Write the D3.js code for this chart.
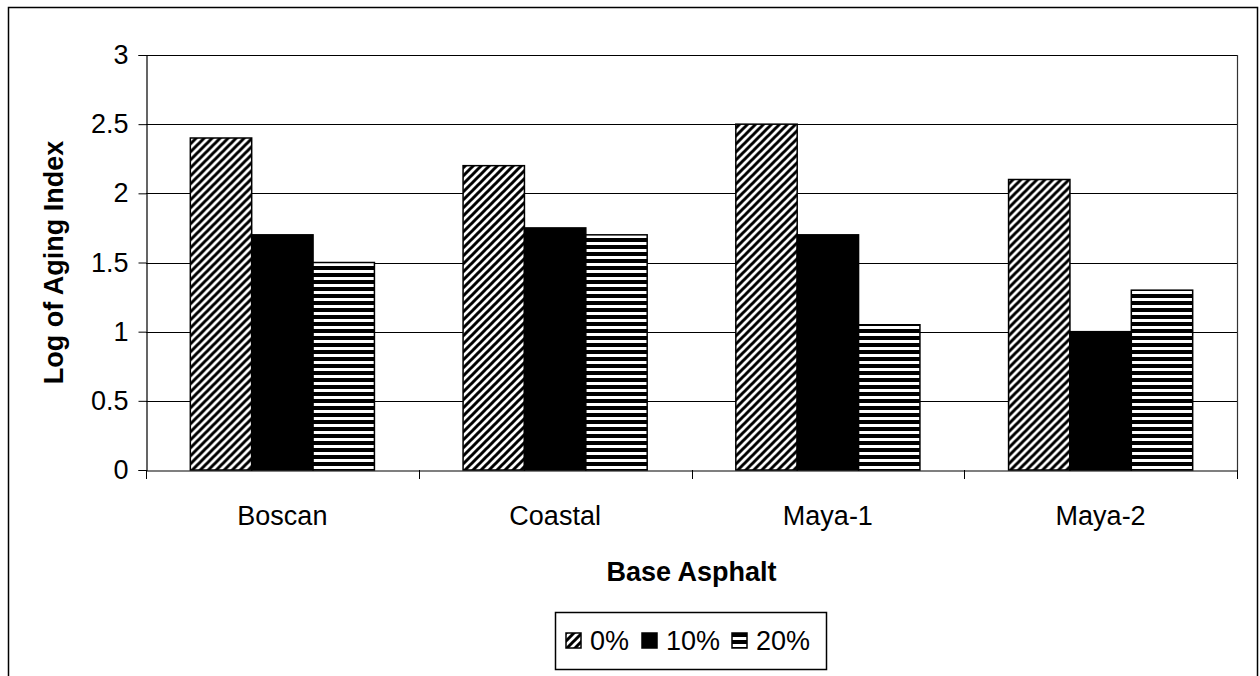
<!DOCTYPE html>
<html>
<head>
<meta charset="utf-8">
<script src="https://cdn.jsdelivr.net/npm/d3@7"></script>
<style>
  html, body { margin: 0; padding: 0; background: #fff; }
  svg { display: block; }
  text { font-family: "Liberation Sans", Arial, sans-serif; fill: #000; }
</style>
</head>
<body>
<svg id="chart" width="1260" height="676"></svg>
<script>
// ---- data ----
const categories = ["Boscan", "Coastal", "Maya-1", "Maya-2"];
const seriesNames = ["0%", "10%", "20%"];
const values0  = [2.4, 2.2, 2.5, 2.1];
const values10 = [1.7, 1.75, 1.7, 1.0];
const values20 = [1.5, 1.7, 1.05, 1.3];
const yTicks = [0, 0.5, 1, 1.5, 2, 2.5, 3];
const yTitle = "Log of Aging Index";
const xTitle = "Base Asphalt";

const seriesValues = [values0, values10, values20];

const svg = d3.select("#chart");
const plot = { left: 146, right: 1237, top: 55, bottom: 470 };

// patterns
const defs = svg.append("defs");
const diag = defs.append("pattern").attr("id", "pDiag")
  .attr("patternUnits", "userSpaceOnUse").attr("width", 8).attr("height", 8);
diag.append("rect").attr("width", 8).attr("height", 8).attr("fill", "#fff");
diag.append("path").attr("d", "M-2,2 L2,-2 M0,8 L8,0 M6,10 L10,6")
  .attr("stroke", "#000").attr("stroke-width", 3);

const horiz = defs.append("pattern").attr("id", "pHoriz")
  .attr("patternUnits", "userSpaceOnUse").attr("width", 8).attr("height", 7);
horiz.append("rect").attr("width", 8).attr("height", 7).attr("fill", "#fff");
horiz.append("rect").attr("y", 0).attr("width", 8).attr("height", 4).attr("fill", "#000");

const fills = ["url(#pDiag)", "#000", "url(#pHoriz)"];

// outer border
svg.append("rect").attr("x", 8.5).attr("y", 7.5).attr("width", 1249).attr("height", 680)
  .attr("fill", "none").attr("stroke", "#000").attr("stroke-width", 1.5);

// scales
const x0 = d3.scaleBand().domain(categories).range([plot.left, plot.right])
  .paddingInner(0.325).paddingOuter(0.1625);
const x1 = d3.scaleBand().domain(seriesNames).range([0, x0.bandwidth()]).padding(0);
const y = d3.scaleLinear().domain([0, 3]).range([plot.bottom, plot.top]);

// gridlines
svg.append("g").selectAll("line").data(yTicks.filter(d => d > 0)).join("line")
  .attr("x1", plot.left).attr("x2", plot.right)
  .attr("y1", d => Math.round(y(d)) + 0.5).attr("y2", d => Math.round(y(d)) + 0.5)
  .attr("stroke", "#000").attr("stroke-width", 1);

// plot area right border
svg.append("line").attr("x1", plot.right + 0.5).attr("x2", plot.right + 0.5)
  .attr("y1", plot.top).attr("y2", plot.bottom)
  .attr("stroke", "#333").attr("stroke-width", 1.2);

// bars
const groups = svg.append("g").selectAll("g").data(categories).join("g")
  .attr("transform", d => `translate(${x0(d)},0)`);
groups.selectAll("rect")
  .data((c, ci) => seriesNames.map((s, si) => ({ s, si, v: seriesValues[si][ci] })))
  .join("rect")
  .attr("x", d => x1(d.s))
  .attr("y", d => y(d.v))
  .attr("width", x1.bandwidth())
  .attr("height", d => y(0) - y(d.v))
  .attr("fill", d => fills[d.si])
  .attr("stroke", "#000").attr("stroke-width", 1.5);

// y axis
const yAxis = d3.axisLeft(y).tickValues(yTicks).tickSize(8).tickPadding(10)
  .tickFormat(d3.format("~g"));
const gy = svg.append("g").attr("transform", `translate(${plot.left + 0.5},0)`).call(yAxis);
gy.select(".domain").attr("stroke", "#000").attr("stroke-width", 1.2);
gy.selectAll(".tick line").attr("stroke", "#000");
gy.selectAll(".tick text").attr("font-size", 27).attr("font-family", "Liberation Sans, Arial, sans-serif");

// x axis
const gx = svg.append("g").attr("transform", `translate(0,${plot.bottom + 0.5})`)
  .call(d3.axisBottom(x0).tickSize(0).tickPadding(0));
gx.select(".domain").attr("stroke", "#000").attr("stroke-width", 1.2);
gx.selectAll(".tick text").attr("font-size", 27).attr("dy", 0).attr("y", 54)
  .attr("font-family", "Liberation Sans, Arial, sans-serif");
// boundary ticks
const step = x0.step();
const bounds = d3.range(categories.length + 1).map(i => plot.left + i * step);
svg.append("g").selectAll("line").data(bounds).join("line")
  .attr("x1", d => Math.round(d) + 0.5).attr("x2", d => Math.round(d) + 0.5)
  .attr("y1", plot.bottom).attr("y2", plot.bottom + 9)
  .attr("stroke", "#000").attr("stroke-width", 1);

// axis titles
svg.append("text").attr("transform", `translate(54,${(plot.top + plot.bottom) / 2}) rotate(-90)`)
  .attr("text-anchor", "middle").attr("dominant-baseline", "central")
  .attr("font-size", 27).attr("font-weight", "bold").text(yTitle);
svg.append("text").attr("x", (plot.left + plot.right) / 2).attr("y", 581)
  .attr("text-anchor", "middle").attr("font-size", 27).attr("font-weight", "bold").text(xTitle);

// legend
const legend = svg.append("g");
legend.append("rect").attr("x", 555.5).attr("y", 612.5).attr("width", 271).attr("height", 57)
  .attr("fill", "#fff").attr("stroke", "#000").attr("stroke-width", 1.5);
const legX = [566, 642, 732];
const items = legend.selectAll("g.item").data(seriesNames).join("g").attr("class", "item")
  .attr("transform", (d, i) => `translate(${legX[i]},633)`);
items.append("rect").attr("width", 15).attr("height", 15)
  .attr("fill", (d, i) => fills[i]).attr("stroke", "#000").attr("stroke-width", 1.5);
items.append("text").attr("x", 24).attr("y", 7.5).attr("dominant-baseline", "central")
  .attr("font-size", 27).text(d => d);
</script>
</body>
</html>
